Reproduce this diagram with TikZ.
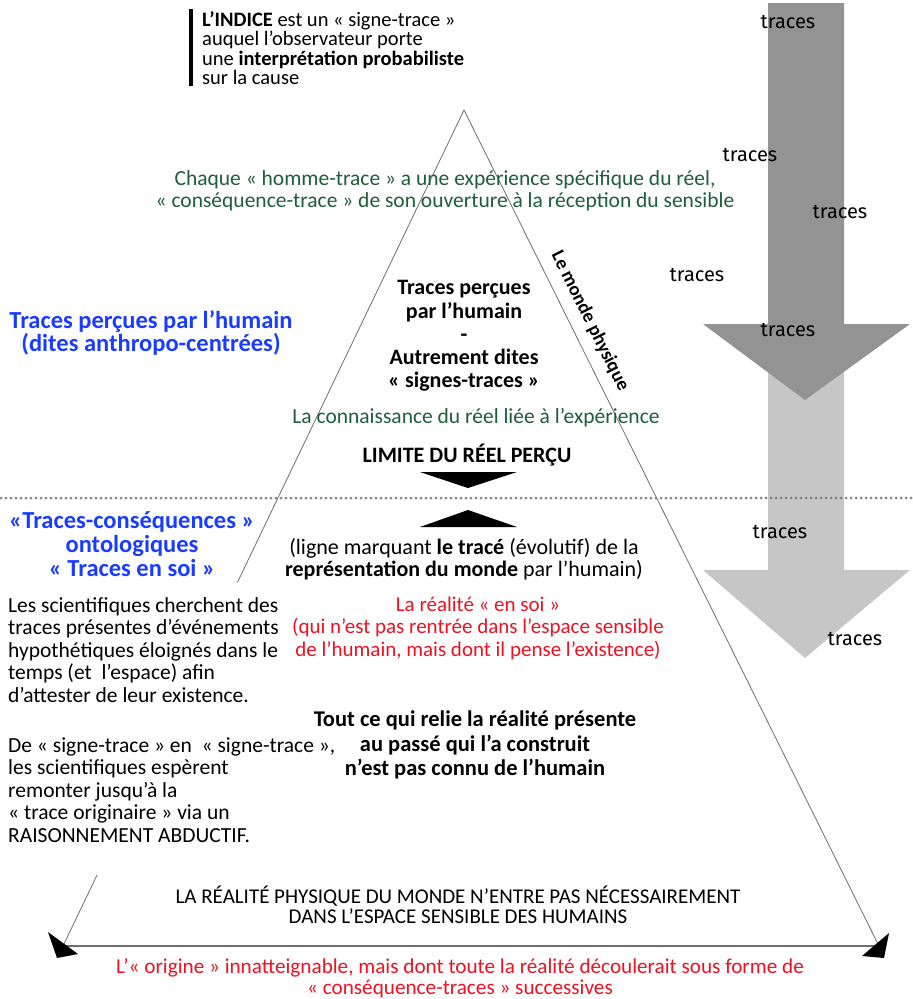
\documentclass[tikz,border=0pt]{standalone}
\usepackage{fontspec}
\setmainfont{Carlito}
\newfontfamily\handfont{Fira Sans}
\usetikzlibrary{calc}
\definecolor{vertfonce}{HTML}{1E5E3A}
\definecolor{bleutrace}{HTML}{1A3CFF}
\definecolor{rougetrace}{HTML}{EE1122}
\definecolor{gristrait}{HTML}{6E6E6E}
\tikzset{
  texte/.style={align=center, inner sep=0pt, font=\fontsize{21.5}{22.5}\selectfont},
  gauche/.style={align=left, inner sep=0pt, anchor=west, font=\fontsize{21.5}{22.5}\selectfont},
  trace/.style={inner sep=0pt, font=\handfont\fontsize{20}{20}\selectfont},
}
\begin{document}
\begin{tikzpicture}[x=1pt, y=-1pt]
   \useasboundingbox (0,0) rectangle (913,999);
   % grandes fleches
   \fill[gray!45] (768,330) -- (844,330) -- (844,570) -- (910,570) -- (805,658) -- (703,570) -- (768,570) -- cycle;
   \fill[gray!85] (768,3) -- (844,3) -- (844,324) -- (910,324) -- (805,400) -- (703,324) -- (768,324) -- cycle;
   \node[trace] (t1) at (788,22) {traces};
   \node[trace] (t2) at (750,155) {traces};
   \node[trace] (t3) at (840,212) {traces};
   \node[trace] (t4) at (697,275) {traces};
   \node[trace] (t5) at (788,330) {traces};
   \node[trace] (t6) at (780,532) {traces};
   \node[trace] (t7) at (855,639) {traces};
   % triangle
   \coordinate (sommet) at (464,110);
   \coordinate (coingauche) at (63,946);
   \coordinate (coindroit) at (879,946);
   \draw[gristrait, thick] (sommet) -- ($(sommet)!0.565!(coingauche)$);
   \draw[gristrait, thick] ($(sommet)!0.915!(coingauche)$) -- (coingauche);
   \draw[gristrait, thick] (sommet) -- (coindroit);
   \draw[gristrait, line width=1.5pt] (coingauche) -- (coindroit);
   \fill (48,932) -- (78,954) -- (57,958) -- cycle;
   \fill (889,933) -- (862,956) -- (884,958) -- cycle;
   \node[inner sep=0pt, rotate=-63.5, font=\fontsize{19}{19}\selectfont\bfseries] (monde) at (590,321) {Le monde physique};
   % ligne pointillee
   \draw[gray, line width=3pt, line cap=round, dash pattern=on 0pt off 5pt] (1,498) -- (913,498);
   \fill (420,472) -- (517,472) -- (468,488) -- cycle;
   \fill (420,527) -- (517,527) -- (468,510) -- cycle;
   % textes
   \draw[line width=4pt] (191,9) -- (191,86);
   \node[gauche, font=\fontsize{20.5}{19.3}\selectfont] (indice) at (202,48) {\textbf{L'INDICE} est un « signe-trace »\\auquel l'observateur porte\\une \textbf{interprétation probabiliste}\\sur la cause};
   \node[texte, text=vertfonce] (chaque) at (445,191) {Chaque « homme-trace » a une expérience spécifique du réel,\\« conséquence-trace » de son ouverture à la réception du sensible};
   \node[texte, text=bleutrace, font=\fontsize{24.5}{23}\selectfont\bfseries] (percues) at (151,333) {Traces perçues par l'humain\\(dites anthropo-centrées)};
   \node[texte, font=\fontsize{22}{23.2}\selectfont\bfseries] (signes) at (464,336) {Traces perçues\\par l'humain\\-\\Autrement dites\\« signes-traces »};
   \node[texte, text=vertfonce] (connaissance) at (476,418) {La connaissance du réel liée à l'expérience};
   \node[texte, font=\fontsize{22}{20}\selectfont\bfseries] (limite) at (467,455) {LIMITE DU RÉEL PERÇU};
   \node[texte, text=bleutrace, font=\fontsize{24.5}{24}\selectfont\bfseries] (ensoi) at (132,544) {«Traces-conséquences »\\ontologiques\\« Traces en soi »};
   \node[texte, font=\fontsize{22}{22.5}\selectfont] (ligne) at (464,559) {(ligne marquant \textbf{le tracé} (évolutif) de la\\\textbf{représentation du monde} par l'humain)};
   \node[texte, text=rougetrace, font=\fontsize{21}{22.5}\selectfont] (realite) at (478,628) {La réalité « en soi »\\(qui n'est pas rentrée dans l'espace sensible\\de l'humain, mais dont il pense l'existence)};
   \node[gauche] (scient) at (8,650) {Les scientifiques cherchent des\\traces présentes d'événements\\hypothétiques éloignés dans le\\temps (et~ l'espace) afin\\d'attester de leur existence.};
   \node[gauche] (abduct) at (8,790) {De « signe-trace » en~ « signe-trace »,\\les scientifiques espèrent\\remonter jusqu'à la\\« trace originaire » via un\\RAISONNEMENT ABDUCTIF.};
   \node[texte, font=\fontsize{22.5}{24.5}\selectfont\bfseries] (relie) at (475,745) {Tout ce qui relie la réalité présente\\au passé qui l'a construit\\n'est pas connu de l'humain};
   \node[texte, font=\fontsize{21}{20.5}\selectfont] (physique) at (458,905) {LA RÉALITÉ PHYSIQUE DU MONDE N'ENTRE PAS NÉCESSAIREMENT\\DANS L'ESPACE SENSIBLE DES HUMAINS};
   \node[texte, text=rougetrace, font=\fontsize{21.2}{20.5}\selectfont] (origine) at (460,978) {L'« origine » innatteignable, mais dont toute la réalité découlerait sous forme de\\« conséquence-traces » successives};
\end{tikzpicture}
\end{document}
